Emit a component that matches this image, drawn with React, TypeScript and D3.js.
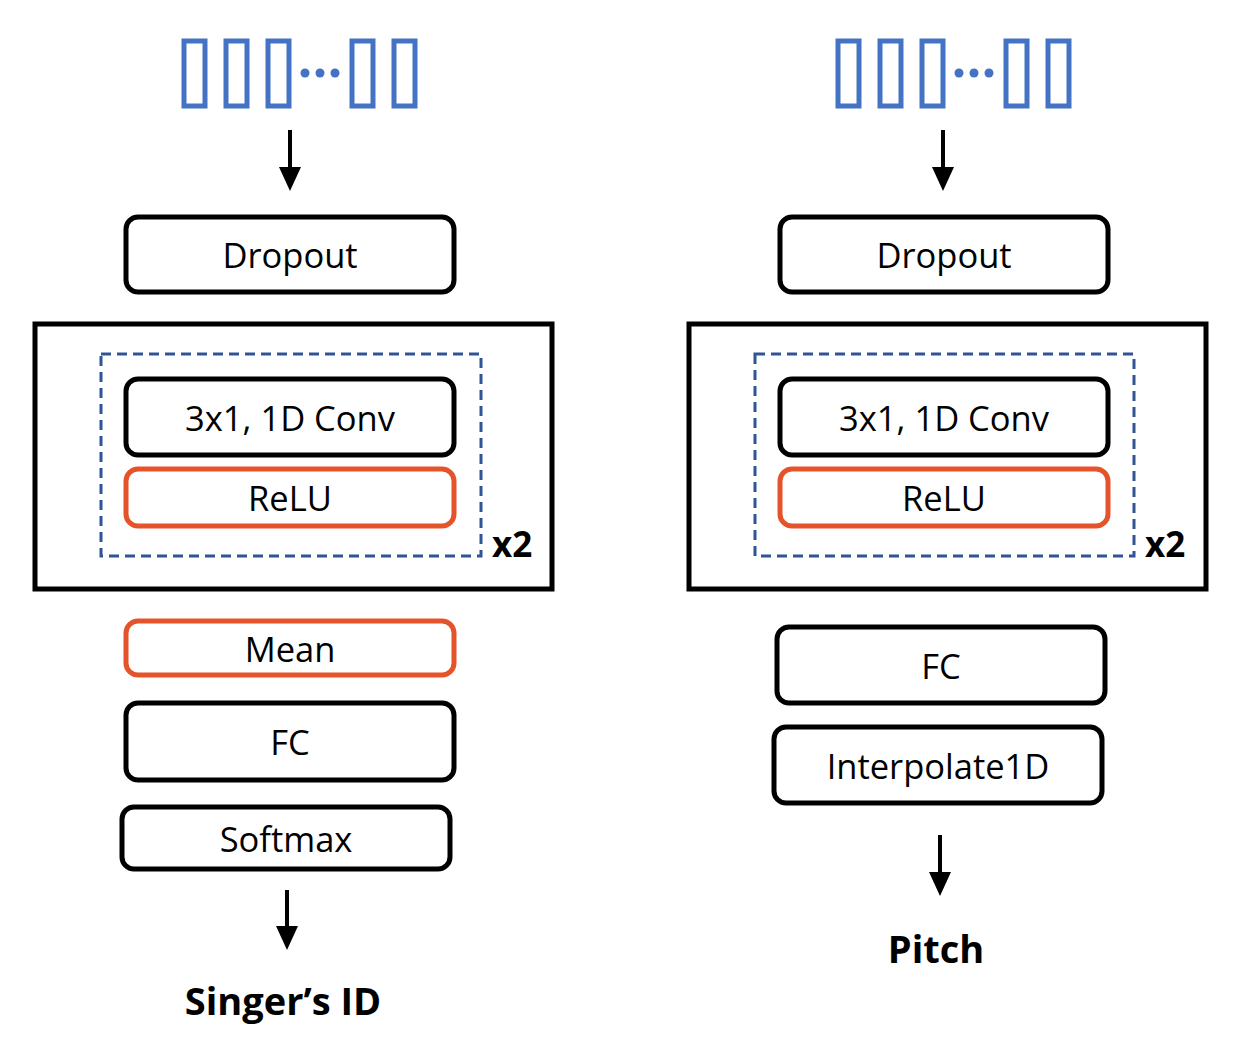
import React from 'react'
import * as d3 from 'd3'

const BLACK = '#000000'
const ORANGE = '#e5532a'
const BLUE = '#4472c4'
const DASH = '#2f5597'

// layer labels per column
const leftLayers = ['Dropout', '3x1, 1D Conv', 'ReLU', 'Mean', 'FC', 'Softmax']
const rightLayers = ['Dropout', '3x1, 1D Conv', 'ReLU', 'FC', 'Interpolate1D']
const outputs = ["Singer’s ID", 'Pitch']
const repeatLabel = 'x2'

interface Box { label: string; x: number; y: number; w: number; h: number; color: string }

const leftBoxes: Box[] = [
  { label: leftLayers[0], x: 126, y: 217, w: 328, h: 75, color: BLACK },
  { label: leftLayers[1], x: 126, y: 379, w: 328, h: 76, color: BLACK },
  { label: leftLayers[2], x: 126, y: 469, w: 328, h: 57, color: ORANGE },
  { label: leftLayers[3], x: 126, y: 621, w: 328, h: 54, color: ORANGE },
  { label: leftLayers[4], x: 126, y: 703, w: 328, h: 77, color: BLACK },
  { label: leftLayers[5], x: 122, y: 807, w: 328, h: 62, color: BLACK },
]
const rightBoxes: Box[] = [
  { label: rightLayers[0], x: 780, y: 217, w: 328, h: 75, color: BLACK },
  { label: rightLayers[1], x: 780, y: 379, w: 328, h: 76, color: BLACK },
  { label: rightLayers[2], x: 780, y: 469, w: 328, h: 57, color: ORANGE },
  { label: rightLayers[3], x: 777, y: 627, w: 328, h: 76, color: BLACK },
  { label: rightLayers[4], x: 774, y: 727, w: 328, h: 76, color: BLACK },
]

const font = '"Open Sans", "Noto Sans", sans-serif'

function Arrow({ x, y1, y2 }: { x: number; y1: number; y2: number }) {
  return (
    <g>
      <line x1={x} x2={x} y1={y1} y2={y2 - 20} stroke={BLACK} strokeWidth={4} />
      <path d={`M${x - 11},${y2 - 24} L${x + 11},${y2 - 24} L${x},${y2} Z`} fill={BLACK} />
    </g>
  )
}

function Inputs({ x0 }: { x0: number }) {
  const pos = [0, 42, 84, 168, 210]
  return (
    <g>
      {pos.map((p, i) => (
        <rect key={i} x={x0 + p} y={41} width={21} height={65} fill="none" stroke={BLUE} strokeWidth={5} />
      ))}
      {[0, 1, 2].map(i => (
        <circle key={i} cx={x0 + 121 + i * 15} cy={73} r={4.5} fill={BLUE} />
      ))}
    </g>
  )
}

function Column({ boxes, dx, outer, dashed, arrowIn, arrowOut, out, outY }: any) {
  return (
    <g>
      <Inputs x0={dx} />
      <Arrow x={arrowIn} y1={130} y2={191} />
      <rect x={outer[0]} y={324} width={outer[1]} height={265} fill="none" stroke={BLACK} strokeWidth={5} />
      <rect x={dashed[0]} y={354} width={dashed[1]} height={202} fill="none" stroke={DASH} strokeWidth={3} strokeDasharray="10,6" />
      <text x={dashed[0] + dashed[1] + 11} y={557} fontFamily={font} fontWeight={700} fontSize={35} fill={BLACK}>{repeatLabel}</text>
      {boxes.map((b: Box, i: number) => (
        <g key={i}>
          <rect x={b.x} y={b.y} width={b.w} height={b.h} rx={12} fill="none" stroke={b.color} strokeWidth={5} />
          <text x={b.x + b.w / 2} y={b.y + b.h / 2} textAnchor="middle" dominantBaseline="central" fontFamily={font} fontSize={34.5} fill={BLACK}>{b.label}</text>
        </g>
      ))}
      <Arrow x={arrowOut[0]} y1={arrowOut[1]} y2={arrowOut[2]} />
      <text x={arrowOut[0] - 4} y={outY} textAnchor="middle" dominantBaseline="central" fontFamily={font} fontWeight={700} fontSize={38} fill={BLACK}>{out}</text>
    </g>
  )
}

export default function App() {
  const w = 1236, h = 1060
  const sx = d3.scaleLinear().domain([0, w]).range([0, w])
  return (
    <svg width={w} height={h} style={{ display: 'block', margin: -8 }} viewBox={`0 0 ${w} ${h}`}>
      <rect width={w} height={h} fill="#fff" />
      <Column boxes={leftBoxes} dx={sx(184)} outer={[35, 517]} dashed={[101, 380]} arrowIn={290} arrowOut={[287, 890, 950]} out={outputs[0]} outY={1000} />
      <Column boxes={rightBoxes} dx={sx(838)} outer={[689, 517]} dashed={[755, 379]} arrowIn={943} arrowOut={[940, 835, 896]} out={outputs[1]} outY={948} />
    </svg>
  )
}
